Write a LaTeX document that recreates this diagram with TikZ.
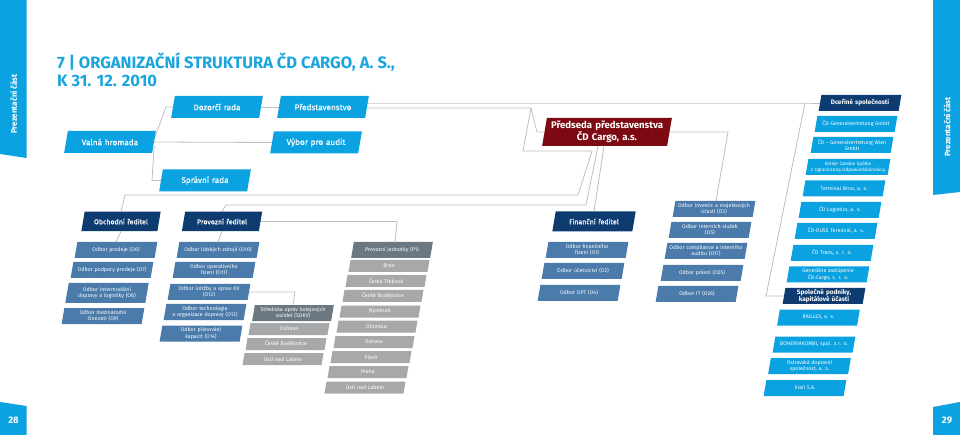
\documentclass[tikz,border=0pt]{standalone}
\usepackage{fontspec}
\setmainfont{Fira Sans}
\newfontfamily\medfont{Fira Sans}[FakeBold=0.4]
\usetikzlibrary{calc,backgrounds}
\definecolor{cdcyan}{HTML}{0AA2E0}
\definecolor{cdnavy}{HTML}{0E3C70}
\definecolor{cdsteel}{HTML}{4A7BAB}
\definecolor{cddgrey}{HTML}{6B7882}
\definecolor{cdlgrey}{HTML}{A6A8AA}
\definecolor{cdmaroon}{HTML}{7D0A12}
\definecolor{cdline}{HTML}{BEBEBE}
\definecolor{cdtitle}{HTML}{1AA5DF}
\tikzset{
  conn/.style={draw=cdline, line width=0.8pt},
  lbl/.style={text=white, align=center, inner sep=0pt, font=\fontsize{5.3}{6.3}\selectfont},
  toplbl/.style={lbl, font=\medfont\fontsize{8.2}{9.6}\selectfont},
  dirlbl/.style={lbl, font=\medfont\fontsize{7}{8.4}\selectfont},
  preslbl/.style={lbl, font=\fontsize{9.6}{11}\selectfont\bfseries},
  rlbl/.style={lbl, font=\fontsize{5.2}{6.2}\selectfont},
  rsmall/.style={lbl, font=\fontsize{4.7}{5.8}\selectfont},
  hdlbl/.style={lbl, font=\fontsize{6.4}{7.2}\selectfont\bfseries},
  cyanbox/.style={fill=cdcyan},
  navybox/.style={fill=cdnavy},
  steelbox/.style={fill=cdsteel},
  dgreybox/.style={fill=cddgrey},
  lgreybox/.style={fill=cdlgrey},
  maroonbox/.style={fill=cdmaroon},
  tabtxt/.style={text=white, font=\fontsize{8}{9.6}\selectfont\bfseries, inner sep=0pt},
  pagenum/.style={text=white, font=\fontsize{9.5}{11}\selectfont\bfseries, inner sep=0pt},
  titletxt/.style={text=cdtitle, font=\fontsize{16.5}{17.5}\selectfont\bfseries, align=left, inner sep=0pt},
}
% name, fill style, label style, x, y, w, h, text
\newcommand{\pgbox}[8]{%
  \pgfmathsetmacro{\sk}{0.085*#7}%
  \fill[#2] ({#4-#6/2-\sk},{#5+#7/2}) -- ({#4+#6/2-\sk},{#5+#7/2}) -- ({#4+#6/2+\sk},{#5-#7/2}) -- ({#4-#6/2+\sk},{#5-#7/2}) -- cycle;%
  \node[#3, text width=#6, minimum height=#7] (#1) at (#4,#5) {#8};%
}
\begin{document}
\begin{tikzpicture}[x=1pt,y=-1pt]
\useasboundingbox (0,0) rectangle (960,435);
% side tabs and page numbers
\fill[cdcyan] (0,0) -- (26.5,0) -- (26.5,158) -- (0,154) -- cycle;
\node[tabtxt, rotate=90] (ltab) at (13.5,104) {Prezentační část};
\fill[cdcyan] (933,0) -- (960,0) -- (960,192) -- (933,195) -- cycle;
\node[tabtxt, rotate=90] (rtab) at (947,127) {Prezentační část};
\fill[cdcyan] (0,402) -- (26.5,406) -- (26.5,435) -- (0,435) -- cycle;
\node[pagenum] (pl) at (13.5,420) {28};
\fill[cdcyan] (933,407) -- (960,402) -- (960,435) -- (933,435) -- cycle;
\node[pagenum] (pr) at (947,420) {29};
% title
\node[titletxt, anchor=north west] (title) at (57,53) {7 | ORGANIZAČNÍ STRUKTURA ČD CARGO, A. S.,\\K 31. 12. 2010};
% top level
\pgbox{valna}{cyanbox}{toplbl}{110}{142}{88}{22}{Valná hromada}
\pgbox{dozorci}{cyanbox}{toplbl}{217}{107}{88}{22}{Dozorčí rada}
\pgbox{predst}{cyanbox}{toplbl}{323}{107}{88}{22}{Představenstvo}
\pgbox{vybor}{cyanbox}{toplbl}{316}{142.5}{88}{22}{Výbor pro audit}
\pgbox{spravni}{cyanbox}{toplbl}{205}{180.5}{88}{22}{Správní rada}
\pgbox{predseda}{maroonbox}{preslbl}{607}{132}{125}{28}{Předseda představenstva\\ČD Cargo, a.s.}
% directors
\pgbox{obchodni}{navybox}{dirlbl}{121}{221.5}{76}{19.5}{Obchodní ředitel}
\pgbox{provozni}{navybox}{dirlbl}{222}{221.5}{77}{19.5}{Provozní ředitel}
\pgbox{financni}{navybox}{dirlbl}{594}{221.5}{80}{20}{Finanční ředitel}
% departments
\pgbox{o6}{steelbox}{lbl}{116}{250}{80}{16}{Odbor prodeje (O6)}
\pgbox{o7}{steelbox}{lbl}{112}{270}{80}{16}{Odbor podpory prodeje (O7)}
\pgbox{o8}{steelbox}{lbl}{107}{293}{80}{20}{Odbor intermodální\\dopravy a logistiky (O8)}
\pgbox{o9}{steelbox}{lbl}{103}{316}{80}{16}{Odbor mezinárodní\\činnosti (O9)}
\pgbox{o10}{steelbox}{lbl}{218}{250}{80}{16}{Odbor lidských zdrojů (O10)}
\pgbox{o11}{steelbox}{lbl}{214}{270}{80}{16}{Odbor operativního\\řízení (O11)}
\pgbox{o12}{steelbox}{lbl}{209}{292}{80}{16}{Odbor údržby a oprav KV\\(O12)}
\pgbox{o13}{steelbox}{lbl}{205}{312}{80}{16}{Odbor technologie\\a organizace dopravy (O13)}
\pgbox{o14}{steelbox}{lbl}{201}{333.5}{80}{16}{Odbor plánování\\kapacit (O14)}
\pgbox{o1}{steelbox}{lbl}{587}{250}{80}{16}{Odbor finančního\\řízení (O1)}
\pgbox{o2}{steelbox}{lbl}{583}{271}{80}{16}{Odbor účetnictví (O2)}
\pgbox{o4}{steelbox}{lbl}{579}{293}{80}{16}{Odbor OPT (O4)}
\pgbox{o3}{steelbox}{lbl}{714}{209}{80}{16}{Odbor investic a majetkových\\účastí (O3)}
\pgbox{o5}{steelbox}{lbl}{710}{230}{80}{16}{Odbor interních služeb\\(O5)}
\pgbox{o17}{steelbox}{lbl}{706}{251}{80}{16}{Odbor compliance a interního\\auditu (O17)}
\pgbox{o25}{steelbox}{lbl}{702}{273}{80}{16}{Odbor právní (O25)}
\pgbox{o26}{steelbox}{lbl}{697}{294}{80}{16}{Odbor IT (O26)}
% SOKV
\pgbox{sokv}{dgreybox}{lbl}{293}{313}{79}{16}{Střediska oprav kolejových\\vozidel (SOKV)}
\pgbox{s1}{lgreybox}{lbl}{289}{329}{79}{12}{Ostrava}
\pgbox{s2}{lgreybox}{lbl}{286}{344}{79}{12}{České Budějovice}
\pgbox{s3}{lgreybox}{lbl}{283}{359}{79}{12}{Ústí nad Labem}
% P1
\pgbox{p1}{dgreybox}{lbl}{392}{250}{79}{16}{Provozní jednotky (P1)}
\pgbox{pa}{lgreybox}{lbl}{389}{266}{79}{12}{Brno}
\pgbox{pb}{lgreybox}{lbl}{386}{281}{79}{12}{Česká Třebová}
\pgbox{pc}{lgreybox}{lbl}{383}{296}{79}{12}{České Budějovice}
\pgbox{pd}{lgreybox}{lbl}{380}{311.5}{79}{12}{Nymburk}
\pgbox{pe}{lgreybox}{lbl}{377}{326.5}{79}{12}{Olomouc}
\pgbox{pf}{lgreybox}{lbl}{374}{342}{79}{12}{Ostrava}
\pgbox{pg}{lgreybox}{lbl}{371}{357}{79}{12}{Plzeň}
\pgbox{ph}{lgreybox}{lbl}{368}{372}{79}{12}{Praha}
\pgbox{pi}{lgreybox}{lbl}{365}{387.5}{79}{12}{Ústí nad Labem}
% subsidiaries
\pgbox{dcer}{navybox}{hdlbl}{860}{103}{80}{16}{Dceřiné společnosti}
\pgbox{r1}{cyanbox}{rlbl}{856}{124}{80}{16}{ČD-Generalvertretung GmbH}
\pgbox{r2}{cyanbox}{rlbl}{852}{145}{80}{16}{ČD – Generalvertretung Wien\\GmbH}
\pgbox{r3}{cyanbox}{rsmall}{848}{167}{82}{16}{Koleje Czeskie Spółka\\z Ograniczoną Odpowiedzialnością}
\pgbox{r4}{cyanbox}{rlbl}{844}{188.5}{80}{16}{Terminal Brno, a. s.}
\pgbox{r5}{cyanbox}{rlbl}{840}{210}{80}{16}{ČD Logistics, a. s.}
\pgbox{r6}{cyanbox}{rlbl}{836}{231}{80}{16}{ČD-DUSS Terminál, a. s.}
\pgbox{r7}{cyanbox}{rlbl}{832}{253}{80}{16}{ČD Trans, s. r. o.}
\pgbox{r8}{cyanbox}{rlbl}{828}{274.5}{80}{16}{Generálne zastúpenie\\ČD-Cargo, s. r. o.}
\pgbox{spol}{navybox}{hdlbl}{824}{296}{80}{16}{Společné podniky,\\kapitálové účasti}
\pgbox{r9}{cyanbox}{rlbl}{818.5}{317.5}{80}{16}{RAILLEX, a. s.}
\pgbox{r10}{cyanbox}{rlbl}{814}{344.5}{80}{16}{BOHEMIAKOMBI, spol. s r. o.}
\pgbox{r11}{cyanbox}{rlbl}{809.5}{366}{80}{16}{Ostravská dopravní\\společnost, a. s.}
\pgbox{r12}{cyanbox}{rlbl}{805}{388}{80}{16}{Xrail S.A.}
% connectors
\begin{scope}[on background layer]
\coordinate (jA) at (805,103);
\coordinate (jB) at (531,108);
\draw[conn] ([yshift=3pt]valna.east) -- (166,107) -- (dozorci.west);
\draw[conn] (valna.east) -- (vybor.west);
\draw[conn] ([yshift=-4pt]valna.east) -- (152,180.5) -- (spravni.west);
\draw[conn] (dozorci.east) -- (predst.west);
\draw[conn] ([yshift=4pt]predst.east) -- (jA) -- (dcer.west);
\draw[conn] (jA) -- (766,296) -- (spol.west);
\draw[conn] ([yshift=-1pt]predst.east) -- (jB) -- (537,132) -- (predseda.west);
\draw[conn] (jB) -- (523,151) -- (592,151) -- (578,195) -- (125,195) -- (obchodni.north);
\draw[conn] (provozni.north) -- (226,205) -- (586,205) -- ([xshift=-9pt]predseda.south);
\draw[conn] ([xshift=-3pt]predseda.south) -- (financni.north);
\draw[conn] (predseda.east) -- (728,132) -- ([xshift=2pt]o3.north);
\draw[conn] (provozni.east) -- (397,221.5) -- ([xshift=3pt]p1.north);
\draw[conn] (o12.east) -- (295,292) -- (sokv.north);
\draw[conn] (obchodni.south) -- (o6.north);
\draw[conn] (provozni.south) -- (o10.north);
\end{scope}
\end{tikzpicture}
\end{document}
